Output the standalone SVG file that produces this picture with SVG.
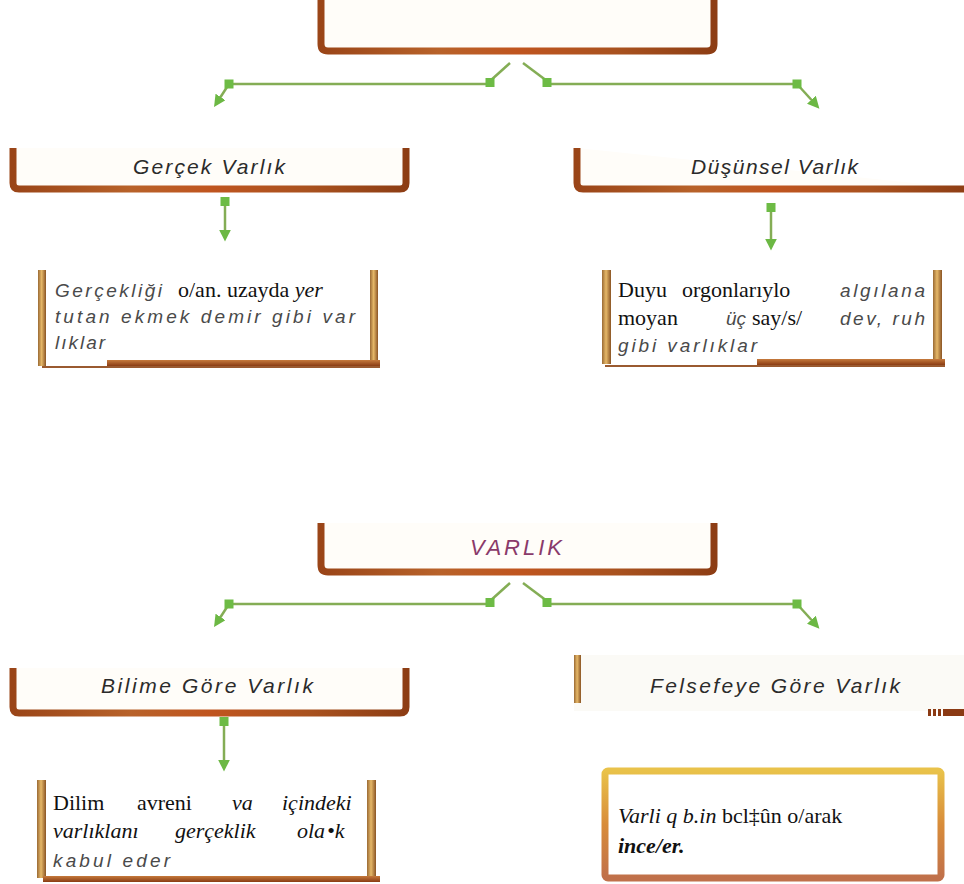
<svg xmlns="http://www.w3.org/2000/svg" width="964" height="884" viewBox="0 0 964 884">
<defs>
  <linearGradient id="brown" x1="0" y1="0" x2="1" y2="0">
    <stop offset="0" stop-color="#9a4518"/>
    <stop offset="0.3" stop-color="#b8622a"/>
    <stop offset="0.5" stop-color="#c0551f"/>
    <stop offset="0.75" stop-color="#a9521f"/>
    <stop offset="1" stop-color="#8d3d14"/>
  </linearGradient>
  <linearGradient id="barV" x1="0" y1="0" x2="0" y2="1">
    <stop offset="0" stop-color="#c67a3c"/>
    <stop offset="1" stop-color="#8a3c14"/>
  </linearGradient>
  <linearGradient id="gold" x1="0" y1="0" x2="1" y2="0">
    <stop offset="0" stop-color="#9a6a34"/>
    <stop offset="0.45" stop-color="#e6b868"/>
    <stop offset="1" stop-color="#8a5424"/>
  </linearGradient>
  <linearGradient id="goldFrame" x1="0" y1="0" x2="0" y2="1">
    <stop offset="0" stop-color="#e9c24a"/>
    <stop offset="0.5" stop-color="#d88c3a"/>
    <stop offset="1" stop-color="#c0704a"/>
  </linearGradient>
  <marker id="arr" viewBox="0 0 10 10" refX="7" refY="5" markerWidth="12" markerHeight="12" markerUnits="userSpaceOnUse" orient="auto">
    <path d="M0,0 L10,5 L0,10 z" fill="#6cb844"/>
  </marker>
</defs>
<style>
.frame{fill:#fffdf9;stroke:url(#brown);stroke-width:7;stroke-linejoin:round}
.ln{stroke:#84ad55;stroke-width:2.5;fill:none}
.ar{marker-end:url(#arr)}
.sq{fill:#6dbb45}
.gbar{fill:url(#gold)}
.bbar{fill:url(#barV)}
.thin{fill:#9a5a30}
.hd{font-family:"Liberation Sans","DejaVu Sans",sans-serif;font-style:italic;font-size:21px;fill:#2b2b2b}
.hw{font-family:"Liberation Sans","DejaVu Sans",sans-serif;font-style:italic;font-size:19px;fill:#4a4a4a}
.sf{font-family:"Liberation Serif","DejaVu Serif",serif;font-size:22px;fill:#111}
.it{font-style:italic}
.bi{font-style:italic;font-weight:bold}
</style>
<rect width="964" height="884" fill="#ffffff"/>

<g id="node-top">
  <path class="frame" d="M321,-4 V44 Q321,51 328,51 H707 Q714,51 714,44 V-4"/>
</g>

<g id="node-gercek">
  <path class="frame" d="M13,148 V183 Q13,189 19,189 H400 Q406,189 406,183 V148"/>
  <text class="hd" x="133" y="174" textLength="152" lengthAdjust="spacing">Gerçek Varlık</text>
</g>

<g id="node-dusunsel">
  <path class="frame" d="M577,148 V183 Q577,189 583,189 H970"/>
  <text class="hd" x="691" y="174" textLength="167" lengthAdjust="spacing">Düşünsel Varlık</text>
</g>

<g id="node-gercek-desc">
  <rect x="46" y="270" width="324" height="92" fill="#ffffff"/>
  <rect class="gbar" x="38" y="270" width="8" height="96"/>
  <rect class="gbar" x="370" y="270" width="8" height="96"/>
  <rect class="bbar" x="107" y="360" width="273" height="6"/>
  <rect class="thin" x="42" y="366" width="338" height="2"/>
  <text class="hw" x="55" y="297" textLength="107" lengthAdjust="spacing">Gerçekliği</text>
  <text class="sf" x="178" y="297">o/an. uzayda <tspan class="it">yer</tspan></text>
  <text class="hw" x="55" y="323" textLength="300" lengthAdjust="spacing">tutan ekmek demir gibi var</text>
  <text class="hw" x="55" y="349" textLength="50" lengthAdjust="spacing">lıklar</text>
</g>

<g id="node-dusunsel-desc">
  <rect class="gbar" x="602" y="270" width="9" height="94"/>
  <rect class="gbar" x="933" y="270" width="9" height="94"/>
  <rect class="bbar" x="757" y="359" width="188" height="6"/>
  <rect class="thin" x="605" y="365" width="340" height="2"/>
  <text class="sf" x="618" y="297">Duyu</text>
  <text class="sf" x="682" y="297">orgonlarıylo</text>
  <text class="hw" x="840" y="297" textLength="85" lengthAdjust="spacing">algılana</text>
  <text class="sf" x="618" y="325">moyan</text>
  <text class="hw" x="726" y="325">üç</text>
  <text class="sf" x="752" y="325">say/s/</text>
  <text class="hw" x="840" y="325" textLength="85" lengthAdjust="spacing">dev, ruh</text>
  <text class="hw" x="618" y="352" textLength="139" lengthAdjust="spacing">gibi varlıklar</text>
</g>

<g id="node-varlik">
  <rect x="468" y="530" width="97" height="28" fill="#f9ebf1"/>
  <path class="frame" d="M321,523 V565 Q321,572 328,572 H707 Q714,572 714,565 V523" fill="none"/>
  <text x="470" y="555" textLength="92" lengthAdjust="spacing" font-family="Liberation Sans, DejaVu Sans, sans-serif" font-size="22" font-style="italic" fill="#8a3a6a">VARLIK</text>
</g>

<g id="node-bilime">
  <path class="frame" d="M13,668 V707 Q13,713 19,713 H400 Q406,713 406,707 V668"/>
  <text class="hd" x="101" y="693" textLength="212" lengthAdjust="spacing">Bilime Göre Varlık</text>
</g>

<g id="node-felsefe">
  <rect x="574" y="655" width="390" height="56" fill="#fbfaf6"/>
  <rect class="gbar" x="574" y="655" width="7" height="48"/>
  <rect x="928" y="709" width="3" height="7" fill="#8b3a14"/>
  <rect x="933" y="709" width="3" height="7" fill="#8b3a14"/>
  <rect x="938" y="709" width="3" height="7" fill="#8b3a14"/>
  <rect x="943" y="709" width="21" height="7" fill="#8b3a14"/>
  <text class="hd" x="650" y="693" textLength="250" lengthAdjust="spacing">Felsefeye Göre Varlık</text>
</g>

<g id="node-bilime-desc">
  <rect class="gbar" x="37" y="780" width="9" height="98"/>
  <rect class="gbar" x="367" y="780" width="9" height="98"/>
  <rect class="bbar" x="43" y="876" width="337" height="6"/>
  <text class="sf" x="53" y="810">Dilim</text>
  <text class="sf" x="137" y="810">avreni</text>
  <text class="sf it" x="232" y="810">va</text>
  <text class="sf it" x="282" y="810">içindeki</text>
  <text class="sf it" x="53" y="838">varlıklanı</text>
  <text class="sf it" x="175" y="838">gerçeklik</text>
  <text class="sf it" x="297" y="838">ola</text>
  <text class="sf it" x="327" y="838">•k</text>
  <text class="hw" x="53" y="867" textLength="117" lengthAdjust="spacing">kabul eder</text>
</g>

<g id="node-varligi-desc">
  <rect x="605" y="771" width="336" height="107" rx="3" fill="#ffffff" stroke="url(#goldFrame)" stroke-width="7"/>
  <text class="sf" x="618" y="823" font-size="21"><tspan class="it">Varli q b.in</tspan> bcl‡ûn o/arak</text>
  <text class="sf bi" x="618" y="853">ince/er.</text>
</g>

<g id="connectors">
  <path class="ln" d="M510,63 L490,81"/>
  <path class="ln" d="M523,63 L547,81"/>
  <path class="ln" d="M229,84 H490"/>
  <path class="ln" d="M547,84 H797"/>
  <path class="ln ar" d="M229,84 L216,104"/>
  <path class="ln ar" d="M797,84 L817,106"/>
  <rect class="sq" x="224.5" y="79.5" width="9" height="9"/>
  <rect class="sq" x="485.5" y="78" width="9" height="9"/>
  <rect class="sq" x="542.5" y="78" width="9" height="9"/>
  <rect class="sq" x="792.5" y="79.5" width="9" height="9"/>
  <path class="ln ar" d="M225,205 V238"/>
  <rect class="sq" x="220.5" y="197" width="9" height="9"/>
  <path class="ln ar" d="M771,211 V247"/>
  <rect class="sq" x="766.5" y="203" width="9" height="9"/>

  <path class="ln" d="M510,583 L490,601"/>
  <path class="ln" d="M523,583 L547,601"/>
  <path class="ln" d="M229,604 H490"/>
  <path class="ln" d="M547,604 H797"/>
  <path class="ln ar" d="M229,604 L216,624"/>
  <path class="ln ar" d="M797,604 L817,626"/>
  <rect class="sq" x="224.5" y="599.5" width="9" height="9"/>
  <rect class="sq" x="485.5" y="598" width="9" height="9"/>
  <rect class="sq" x="542.5" y="598" width="9" height="9"/>
  <rect class="sq" x="792.5" y="599.5" width="9" height="9"/>
  <path class="ln ar" d="M224,725 V768"/>
  <rect class="sq" x="219.5" y="717" width="9" height="9"/>
</g>
</svg>
